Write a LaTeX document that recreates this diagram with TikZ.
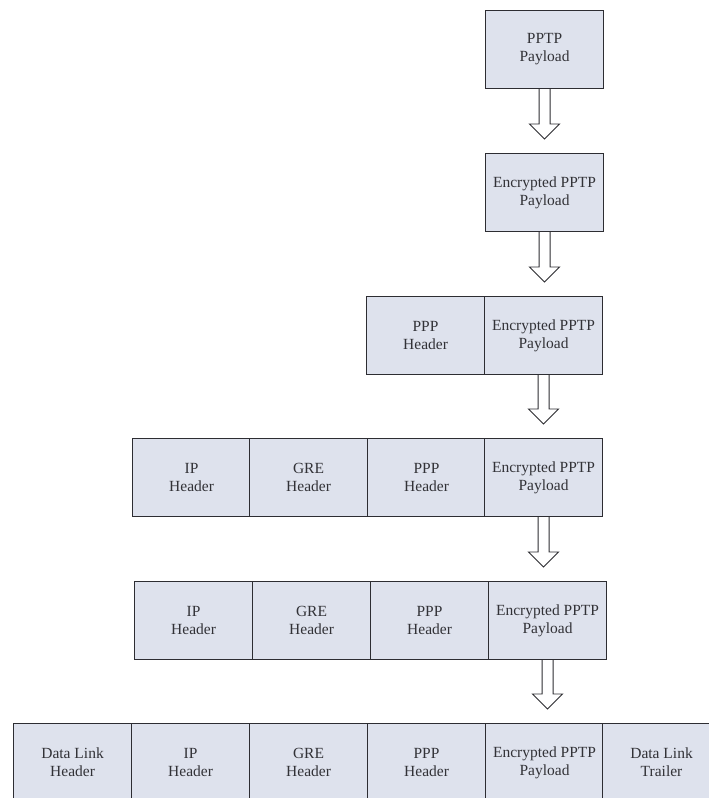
\documentclass[tikz,border=0pt]{standalone}
\usepackage{fontspec}
\setmainfont{Liberation Serif}
\usetikzlibrary{calc}
\definecolor{boxfill}{RGB}{222,226,237}
\definecolor{edge}{RGB}{45,45,50}
\definecolor{txt}{RGB}{50,50,55}
\newcommand\blockarrow[2]{%
  \draw[blockarr] let \p1=(#1.south), \p2=(#2.north) in
    (\x1-5.5pt,\y1) -- (\x1-5.5pt,\y2+29pt) -- (\x1-15pt,\y2+29pt) --
    (\x1,\y2+14pt) -- (\x1+15pt,\y2+29pt) -- (\x1+5.5pt,\y2+29pt) -- (\x1+5.5pt,\y1);}
\begin{document}
\begin{tikzpicture}[x=1pt,y=-1pt,
  pbox/.style={draw=edge, line width=1.1pt, fill=boxfill, anchor=north west,
    minimum width=118pt, minimum height=78pt, inner sep=0pt, align=center,
    text=txt, font=\fontsize{15.5}{18}\selectfont},
  blockarr/.style={draw=edge, line width=0.9pt, fill=white, line join=miter}]
\useasboundingbox (0,0) rectangle (709,798);
\clip (0,0) rectangle (709,798);
\fill[white] (0,0) rectangle (709,798);
% row 1
\node[pbox] (a1) at (485,10) {PPTP\\Payload};
% row 2
\node[pbox] (b1) at (485,153) {Encrypted PPTP\\Payload};
% row 3
\node[pbox] (c1) at (366,296) {PPP\\Header};
\node[pbox] (c2) at (484,296) {Encrypted PPTP\\Payload};
% row 4
\node[pbox] (d1) at (132,438) {IP\\Header};
\node[pbox] (d2) at (249,438) {GRE\\Header};
\node[pbox] (d3) at (367,438) {PPP\\Header};
\node[pbox] (d4) at (484,438) {Encrypted PPTP\\Payload};
% row 5
\node[pbox] (e1) at (134,581) {IP\\Header};
\node[pbox] (e2) at (252,581) {GRE\\Header};
\node[pbox] (e3) at (370,581) {PPP\\Header};
\node[pbox] (e4) at (488,581) {Encrypted PPTP\\Payload};
% row 6
\node[pbox] (f1) at (13,723) {Data Link\\Header};
\node[pbox] (f2) at (131,723) {IP\\Header};
\node[pbox] (f3) at (249,723) {GRE\\Header};
\node[pbox] (f4) at (367,723) {PPP\\Header};
\node[pbox] (f5) at (485,723) {Encrypted PPTP\\Payload};
\node[pbox] (f6) at (602,723) {Data Link\\Trailer};
% arrows
\blockarrow{a1}{b1}
\blockarrow{b1}{c2}
\blockarrow{c2}{d4}
\blockarrow{d4}{e4}
\blockarrow{e4}{f5}
\end{tikzpicture}
\end{document}
